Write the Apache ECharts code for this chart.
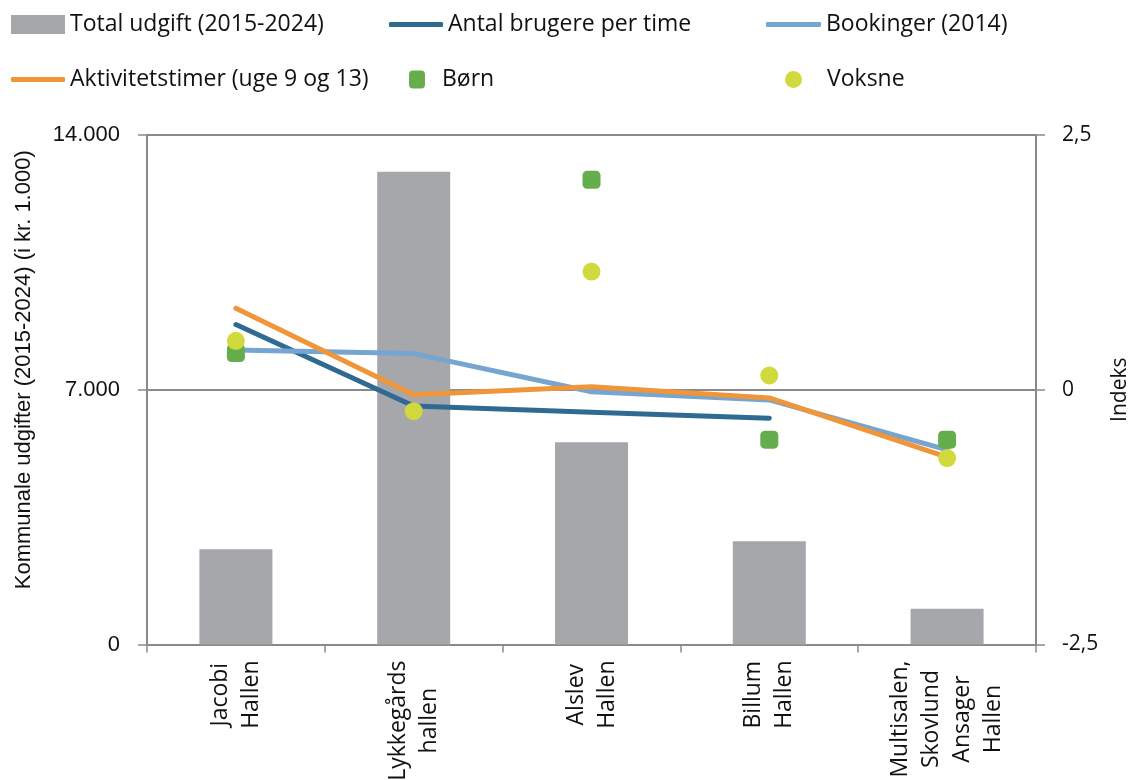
<!DOCTYPE html>
<html>
<head>
<meta charset="utf-8">
<script src="https://cdn.jsdelivr.net/npm/echarts@6/dist/echarts.min.js"></script>
<style>
  html, body { margin: 0; padding: 0; background: #ffffff; overflow: hidden; }
  #chart { width: 1129px; height: 780px; }
</style>
</head>
<body>
<div id="chart"></div>
<script>
// Halls (category axis)
const categories = [
  'Jacobi\nHallen',
  'Lykkegårds\nhallen',
  'Alslev\nHallen',
  'Billum\nHallen',
  'Multisalen,\nSkovlund\nAnsager\nHallen'
];

// Total municipal spending 2015-2024, kr. 1.000 (left axis)
const totalUdgift = [2620, 12990, 5560, 2840, 980];

// Index values (right axis)
const antalBrugere = [0.64, -0.16, -0.22, -0.28, null];
const bookinger = [0.39, 0.355, -0.02, -0.10, -0.59];
const aktivitetstimer = [0.80, -0.05, 0.03, -0.08, -0.66];
const boern = [0.36, null, 2.06, -0.49, -0.49];
const voksne = [0.48, -0.21, 1.16, 0.14, -0.67];

// Axis tick values
const leftTicks = { min: 0, max: 14000, interval: 7000 };
const rightTicks = { min: -2.5, max: 2.5, interval: 2.5 };

const names = {
  bar: 'Total udgift (2015-2024)',
  brugere: 'Antal brugere per time',
  bookinger: 'Bookinger (2014)',
  aktiv: 'Aktivitetstimer (uge 9 og 13)',
  boern: 'Børn',
  voksne: 'Voksne'
};

const colors = {
  bar: '#a6a7ab',
  brugere: '#2f6a93',
  bookinger: '#75a5d0',
  aktiv: '#f0963a',
  boern: '#66ad4e',
  voksne: '#d2d93c'
};

const axisGray = '#8a8a8a';
const legendFont = { fontFamily: 'Open Sans', fontSize: 23, color: '#111' };

function legendItem(name, left, top, extra) {
  return Object.assign({
    data: [name],
    left: left,
    top: top,
    orient: 'horizontal',
    padding: 0,
    itemGap: 0,
    selectedMode: false,
    textStyle: Object.assign({}, legendFont)
  }, extra);
}

const chart = echarts.init(document.getElementById('chart'), null, { renderer: 'canvas', width: 1129, height: 780 });

chart.setOption({
  backgroundColor: '#ffffff',
  animation: false,
  legend: [
    legendItem(names.bar, 11, 13, { icon: 'rect', itemWidth: 54, itemHeight: 19 }),
    legendItem(names.brugere, 389, 13, { icon: 'roundRect', itemWidth: 54, itemHeight: 5 }),
    legendItem(names.bookinger, 766, 13, { icon: 'roundRect', itemWidth: 55, itemHeight: 5 }),
    legendItem(names.aktiv, 11, 68, { icon: 'roundRect', itemWidth: 54, itemHeight: 5 }),
    legendItem(names.boern, 409, 68, {
      icon: 'roundRect', itemWidth: 16, itemHeight: 18,
      textStyle: Object.assign({}, legendFont, { padding: [0, 0, 0, 12] })
    }),
    legendItem(names.voksne, 785, 68, {
      icon: 'circle', itemWidth: 17, itemHeight: 17,
      textStyle: Object.assign({}, legendFont, { padding: [0, 0, 0, 20] })
    })
  ],
  grid: {
    left: 147,
    right: 93,
    top: 135,
    bottom: 135.5,
    containLabel: false,
    outerBoundsMode: 'none'
  },
  xAxis: {
    type: 'category',
    data: categories,
    boundaryGap: true,
    axisLine: { show: true, lineStyle: { color: axisGray, width: 2 } },
    axisTick: { show: true, alignWithLabel: false, length: 8, lineStyle: { color: axisGray, width: 1.5 } },
    axisLabel: {
      rotate: 90,
      interval: 0,
      margin: 16,
      lineHeight: 31,
      fontFamily: 'Open Sans',
      fontSize: 23,
      color: '#111',
      formatter: function (value) {
        return value.split('\n').map(function (s) { return '{c|' + s + '}'; }).join('\n');
      },
      rich: {
        c: { align: 'center', fontFamily: 'Open Sans', fontSize: 23, lineHeight: 31, color: '#111' }
      }
    },
    splitLine: { show: false }
  },
  yAxis: [
    {
      type: 'value',
      position: 'left',
      min: leftTicks.min,
      max: leftTicks.max,
      interval: leftTicks.interval,
      name: 'Kommunale udgifter (2015-2024) (i kr. 1.000)',
      nameLocation: 'middle',
      nameGap: 112,
      nameRotate: 90,
      nameTextStyle: {
        fontFamily: 'Liberation Sans',
        fontSize: 22,
        color: '#111',
        padding: [0, 0, 0, 40]
      },
      axisLine: { show: true, lineStyle: { color: axisGray, width: 2 } },
      axisTick: { show: true, inside: false, length: 9, lineStyle: { color: axisGray, width: 1.5 } },
      axisLabel: {
        margin: 27,
        fontFamily: 'Liberation Sans',
        fontSize: 22,
        color: '#111',
        formatter: function (v) {
          return String(v).replace(/\B(?=(\d{3})+(?!\d))/g, '.');
        }
      },
      splitLine: { show: true, lineStyle: { color: axisGray, width: 2 } }
    },
    {
      type: 'value',
      position: 'right',
      min: rightTicks.min,
      max: rightTicks.max,
      interval: rightTicks.interval,
      name: 'Indeks',
      nameLocation: 'middle',
      nameGap: 72,
      nameRotate: 90,
      nameTextStyle: {
        fontFamily: 'Open Sans',
        fontSize: 21,
        color: '#111'
      },
      axisLine: { show: true, lineStyle: { color: axisGray, width: 2 } },
      axisTick: { show: true, inside: false, length: 9, lineStyle: { color: axisGray, width: 1.5 } },
      axisLabel: {
        margin: 26,
        fontFamily: 'Open Sans',
        fontSize: 21,
        color: '#111',
        formatter: function (v) {
          return String(v).replace('.', ',');
        }
      },
      splitLine: { show: false }
    }
  ],
  series: [
    {
      name: names.bar,
      type: 'bar',
      yAxisIndex: 0,
      data: totalUdgift,
      barWidth: 73,
      itemStyle: { color: colors.bar },
      z: 1
    },
    {
      name: names.brugere,
      type: 'line',
      yAxisIndex: 1,
      data: antalBrugere,
      showSymbol: false,
      symbol: 'none',
      connectNulls: false,
      lineStyle: { color: colors.brugere, width: 5, cap: 'round', join: 'round' },
      itemStyle: { color: colors.brugere },
      z: 3
    },
    {
      name: names.bookinger,
      type: 'line',
      yAxisIndex: 1,
      data: bookinger,
      showSymbol: false,
      symbol: 'none',
      lineStyle: { color: colors.bookinger, width: 5, cap: 'round', join: 'round' },
      itemStyle: { color: colors.bookinger },
      z: 4
    },
    {
      name: names.aktiv,
      type: 'line',
      yAxisIndex: 1,
      data: aktivitetstimer,
      showSymbol: false,
      symbol: 'none',
      lineStyle: { color: colors.aktiv, width: 5, cap: 'round', join: 'round' },
      itemStyle: { color: colors.aktiv },
      z: 5
    },
    {
      name: names.boern,
      type: 'scatter',
      yAxisIndex: 1,
      data: boern,
      symbol: 'roundRect',
      symbolSize: 18,
      itemStyle: { color: colors.boern, opacity: 1 },
      z: 6
    },
    {
      name: names.voksne,
      type: 'scatter',
      yAxisIndex: 1,
      data: voksne,
      symbol: 'circle',
      symbolSize: 18,
      itemStyle: { color: colors.voksne, opacity: 1 },
      z: 7
    }
  ]
});
</script>
</body>
</html>
